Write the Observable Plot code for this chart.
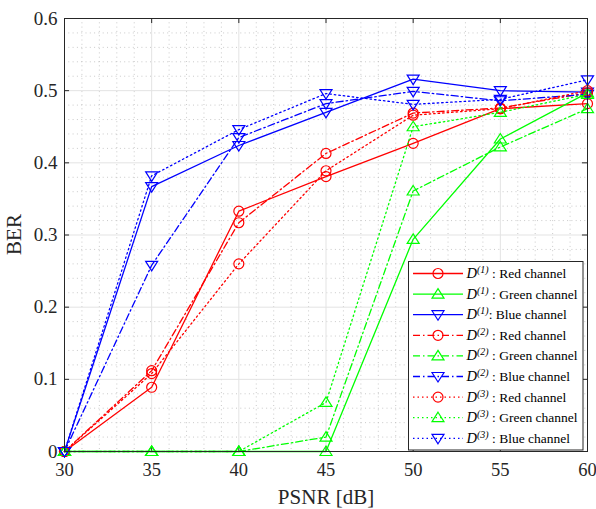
<!DOCTYPE html>
<html>
<head>
<meta charset="utf-8">
<script src="https://cdn.jsdelivr.net/npm/d3@7"></script>
<script src="https://cdn.jsdelivr.net/npm/@observablehq/plot@0.6"></script>
<style>
  html, body { margin: 0; padding: 0; background: #fff; }
  #chart { width: 596px; height: 509px; }
  #chart svg text, #chart svg tspan { font-family: "Liberation Serif", "Times New Roman", serif !important; }
</style>
</head>
<body>
<div id="chart"></div>
<script>
// ---- data ----
const psnr = [30, 35, 40, 45, 50, 55, 60];
const d1Red   = [0, 0.089, 0.333, 0.381, 0.427, 0.475, 0.482];
const d1Green = [0, 0, 0, 0, 0.294, 0.433, 0.497];
const d1Blue  = [0, 0.367, 0.424, 0.470, 0.516, 0.500, 0.498];
const d2Red   = [0, 0.112, 0.317, 0.413, 0.469, 0.476, 0.497];
const d2Green = [0, 0, 0, 0.020, 0.361, 0.422, 0.475];
const d2Blue  = [0, 0.258, 0.435, 0.482, 0.499, 0.486, 0.495];
const d3Red   = [0, 0.108, 0.260, 0.389, 0.466, 0.475, 0.500];
const d3Green = [0, 0, 0, 0.068, 0.450, 0.470, 0.495];
const d3Blue  = [0, 0.382, 0.446, 0.496, 0.481, 0.488, 0.515];

const xTicks = [30, 35, 40, 45, 50, 55, 60];
const yTicks = [0, 0.1, 0.2, 0.3, 0.4, 0.5, 0.6];
const xLabel = "PSNR [dB]";
const yLabel = "BER";
const channelNames = ["Red channel", "Green channel", "Blue channel"];
const decoderSups = ["(1)", "(2)", "(3)"];

// ---- styles ----
const colors = ["#ff0000", "#00ff00", "#0000ff"];
const dashes = [null, "7,3,1.5,3", "1.5,3"];
const triUp = {draw(ctx) { ctx.moveTo(0, -5.5); ctx.lineTo(6, 4); ctx.lineTo(-6, 4); ctx.closePath(); }};
const triDown = {draw(ctx) { ctx.moveTo(0, 5.5); ctx.lineTo(6, -4); ctx.lineTo(-6, -4); ctx.closePath(); }};
const circ = {draw(ctx) { ctx.moveTo(5, 0); ctx.arc(0, 0, 5, 0, 2 * Math.PI); ctx.closePath(); }};
const symbols = [circ, triUp, triDown];

const seriesValues = [
  [d1Red, d1Green, d1Blue],
  [d2Red, d2Green, d2Blue],
  [d3Red, d3Green, d3Blue]
];

const series = [];
seriesValues.forEach((group, di) => group.forEach((vals, ci) => {
  series.push({
    di, ci,
    rows: psnr.map((p, i) => ({psnr: p, ber: vals[i]}))
  });
}));

const minorX = d3.range(30, 61, 1).filter(v => v % 5 !== 0);
const minorY = d3.range(0, 61, 2).filter(v => v % 10 !== 0).map(v => v / 100);
const majorXInner = xTicks.slice(1, -1);
const majorYInner = yTicks.slice(1, -1);

const axisColor = "#262626";
const marks = [
  Plot.ruleX(minorX, {stroke: "#bdbdbd", strokeDasharray: "1,3.3", strokeWidth: 0.8}),
  Plot.ruleY(minorY, {stroke: "#bdbdbd", strokeDasharray: "1,3.3", strokeWidth: 0.8}),
  Plot.ruleX(majorXInner, {stroke: "#e3e3e3", strokeWidth: 1}),
  Plot.ruleY(majorYInner, {stroke: "#e3e3e3", strokeWidth: 1}),
  // inward tick marks (bottom/top/left/right)
  Plot.ruleX(xTicks, {y1: 0, y2: 0.007, stroke: axisColor}),
  Plot.ruleX(xTicks, {y1: 0.593, y2: 0.6, stroke: axisColor}),
  Plot.ruleY(yTicks, {x1: 30, x2: 30.29, stroke: axisColor}),
  Plot.ruleY(yTicks, {x1: 59.71, x2: 60, stroke: axisColor}),
  Plot.axisX(xTicks, {tickSize: 0, tickPadding: 11, fontSize: 18.5, fill: axisColor, label: null, tickFormat: d => String(d)}),
  Plot.axisY(yTicks, {tickSize: 0, tickPadding: 7, fontSize: 19, fill: axisColor, label: null, tickFormat: d => d === 0 ? "0" : d.toFixed(1)})
];
for (const s of series) {
  const opts = {x: "psnr", y: "ber", stroke: colors[s.ci], strokeWidth: 1.3};
  if (dashes[s.di]) opts.strokeDasharray = dashes[s.di];
  marks.push(Plot.line(s.rows, opts));
  marks.push(Plot.dot(s.rows, {x: "psnr", y: "ber", stroke: colors[s.ci], fill: "none", strokeWidth: 1.2, symbol: symbols[s.ci], r: 5}));
}
marks.push(Plot.frame({stroke: axisColor, strokeWidth: 1}));

const svg = Plot.plot({
  width: 596,
  height: 509,
  marginLeft: 64,
  marginRight: 9,
  marginTop: 18,
  marginBottom: 58,
  x: {domain: [30, 60]},
  y: {domain: [0, 0.6]},
  style: {color: axisColor, background: "#fff", overflow: "visible", fontSize: "19px"},
  marks
});
document.getElementById("chart").appendChild(svg);

// ---- axis titles ----
const g = d3.select(svg);
g.append("text").attr("x", 326).attr("y", 504).attr("text-anchor", "middle")
  .attr("font-size", 21).attr("fill", axisColor).text(xLabel);
g.append("text").attr("transform", "translate(21,234.5) rotate(-90)").attr("text-anchor", "middle")
  .attr("font-size", 21).attr("fill", axisColor).text(yLabel);

// ---- legend ----
const lg = g.append("g").attr("text-anchor", "start");
lg.append("rect").attr("x", 408.5).attr("y", 261.5).attr("width", 174.5).attr("height", 188.5)
  .attr("fill", "#fff").attr("stroke", axisColor).attr("stroke-width", 1);
const rowY0 = 273.5, rowStep = 20.6;
const symPaths = symbols.map(sym => { const p = d3.path(); sym.draw(p); return p.toString(); });
let idx = 0;
for (let di = 0; di < 3; di++) {
  for (let ci = 0; ci < 3; ci++) {
    const y = rowY0 + idx * rowStep;
    const ln = lg.append("line").attr("x1", 413).attr("x2", 463).attr("y1", y).attr("y2", y)
      .attr("stroke", colors[ci]).attr("stroke-width", 1.3);
    if (dashes[di]) ln.attr("stroke-dasharray", dashes[di]);
    lg.append("path").attr("d", symPaths[ci]).attr("transform", `translate(438,${y})`)
      .attr("fill", "none").attr("stroke", colors[ci]).attr("stroke-width", 1.2);
    const t = lg.append("text").attr("x", 466.5).attr("y", y + 4.5)
      .attr("font-size", 13.5).attr("fill", "#000").attr("text-anchor", "start");
    t.append("tspan").attr("font-style", "italic").attr("font-size", 14.5).text("D");
    t.append("tspan").attr("dy", -5).attr("font-size", 10).attr("font-style", "italic").text(decoderSups[di]);
    t.append("tspan").attr("dy", 5).text((di === 0 && ci === 2 ? ": " : " : ") + channelNames[ci]);
    idx++;
  }
}
</script>
</body>
</html>
